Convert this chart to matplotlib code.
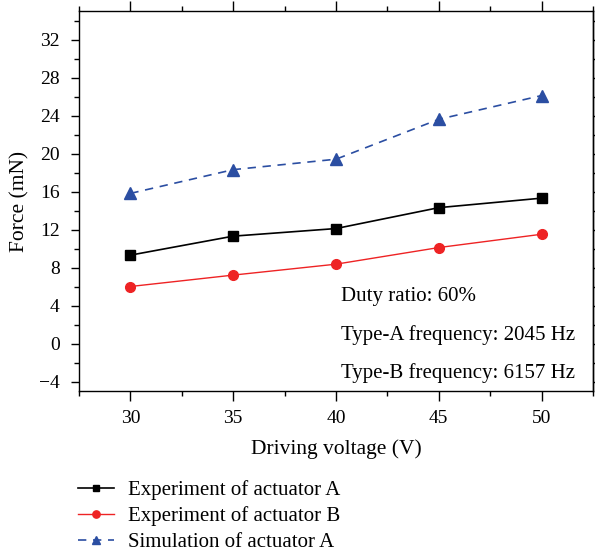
import matplotlib
matplotlib.use("Agg")
import matplotlib.pyplot as plt
from matplotlib.ticker import MultipleLocator, NullLocator

voltage = [30, 35, 40, 45, 50]
exp_a = [9.3, 11.3, 12.1, 14.3, 15.3]
exp_b = [6.0, 7.2, 8.35, 10.1, 11.5]
sim_a = [15.8, 18.3, 19.4, 23.6, 26.1]
labels = ["Experiment of actuator A", "Experiment of actuator B", "Simulation of actuator A"]
notes = ["Duty ratio: 60%", "Type-A frequency: 2045 Hz", "Type-B frequency: 6157 Hz"]
yticks = [-4, 0, 4, 8, 12, 16, 20, 24, 28, 32]

plt.rcParams['font.family'] = ['Liberation Serif', 'DejaVu Serif']

fig = plt.figure(figsize=(5.95, 5.52), dpi=100)
ax = fig.add_axes([79/595, 1-391/552, (593-79)/595, (391-11)/552])

l1, = ax.plot(voltage, exp_a, color='black', lw=1.2, marker='s', ms=6.5, label=labels[0])
l2, = ax.plot(voltage, exp_b, color='#EE2324', lw=1.0, marker='o', ms=7, label=labels[1])
l3, = ax.plot(voltage, sim_a, color='#2B4EA2', lw=1.2, ls=(0, (5, 4)), marker='^', ms=8, label=labels[2])

ax.set_xlim(27.5, 52.5)
ax.set_ylim(-5, 35)
ax.xaxis.set_major_locator(MultipleLocator(5))
ax.xaxis.set_minor_locator(MultipleLocator(2.5))
ax.set_yticks(yticks)
ax.set_yticklabels([str(v).replace('-', '\u2212') for v in yticks])
ax.yaxis.set_minor_locator(MultipleLocator(2))
ax.tick_params(which='both', direction='out', top=True, right=False, labelsize=14, width=1.0)
ax.tick_params(axis='x', which='major', length=7, pad=7)
ax.tick_params(axis='x', which='minor', length=3.5)
ax.tick_params(axis='y', which='major', length=6, pad=8)
ax.tick_params(axis='y', which='minor', length=3.5)

sec = ax.secondary_yaxis('right')
sec.yaxis.set_major_locator(MultipleLocator(2))
sec.yaxis.set_minor_locator(NullLocator())
sec.tick_params(direction='out', length=3, width=1.0, labelright=False)

for s in list(ax.spines.values()) + list(sec.spines.values()):
    s.set_linewidth(1.0)

ax.set_xlabel("Driving voltage (V)", fontsize=15.5)
ax.xaxis.set_label_coords(0.5, -(449-391)/380)
ax.xaxis.label.set_va('center')
ax.set_ylabel("Force (mN)", fontsize=15.5)
ax.yaxis.set_label_coords(-(79-19.5)/514, 0.5)
ax.yaxis.label.set_va('center')

for i, t in enumerate(notes):
    fig.text(341/595, 1-(297+38*i)/552, t, fontsize=15, va='center', ha='left')

fig.legend(handles=[l1, l2, l3], loc='upper left', bbox_to_anchor=(72/595, 1-474/552),
           frameon=False, fontsize=15, handlelength=1.7, labelspacing=0.3, handletextpad=0.7,
           markerscale=0.75, borderaxespad=0, borderpad=0.3)

fig.savefig("out.png", dpi=100)
